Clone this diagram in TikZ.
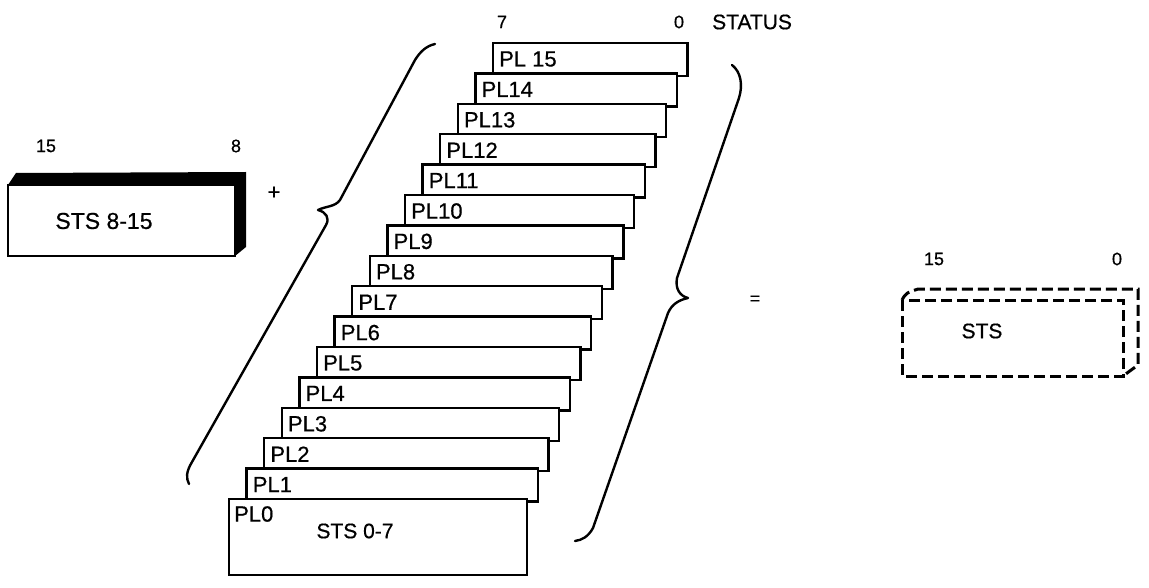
\documentclass[tikz,border=0pt]{standalone}
\usepackage{fontspec}
\setmainfont{Liberation Sans}[FakeBold=0.6,BoldFont={Liberation Sans},BoldFeatures={FakeBold=0.6}]
\begin{document}
\begin{tikzpicture}[x=1pt,y=-1pt,
  card/.style={draw=black, fill=white, line width=2.4pt},
  lbl/.style={inner sep=0pt, font=\fontsize{22}{26}\selectfont},
  num/.style={inner sep=0pt, font=\fontsize{18}{21}\selectfont},
  brace/.style={draw=black, line width=2.4pt, line cap=round, line join=round},
  dbox/.style={draw=black, line width=3pt, dash pattern=on 11pt off 5pt}]
\useasboundingbox (0,0) rectangle (1149,588);

% ---- left box (bits 15..8)
\fill[black] (8,185) -- (16,173) -- (246,172) -- (246,247) -- (235,256) -- cycle;
\draw[line width=2pt, fill=white] (8,185) rectangle (235,256);
\node[lbl, font=\fontsize{23}{27}\selectfont] (sts815) at (104,221) {STS 8-15};
\node[num] (n15a) at (46,146) {15};
\node[num] (n8) at (236,146) {8};
\node[lbl] (plus) at (274,193) {+};

% ---- stacked cards PL15 .. PL1
\foreach \i/\lab in {15/PL 15,14/PL14,13/PL13,12/PL12,11/PL11,10/PL10,9/PL9,8/PL8,7/PL7,6/PL6,5/PL5,4/PL4,3/PL3,2/PL2,1/PL1}{
  \pgfmathsetmacro\L{229+17.6*\i}
  \pgfmathsetmacro\T{499-30.4*\i}
  \pgfmathsetmacro\R{527+10.7*\i}
  \pgfmathsetmacro\B{\T+33}
  \draw[card] (\L,\T) rectangle (\R,\B);
  \node[lbl, anchor=west] (pl\i) at (\L+6,\T+16) {\lab};
}
% ---- front card PL0
\draw[card] (229,499) rectangle (527,575);
\node[lbl, anchor=west] (pl0) at (234,514) {PL0};
\node[lbl, font=\fontsize{21}{25}\selectfont] (sts07) at (355,531) {STS 0-7};

% ---- header
\node[num] (n7) at (502,22) {7};
\node[num] (n0a) at (679,22) {0};
\node[lbl, anchor=west, font=\fontsize{21}{25}\selectfont] (status) at (712,22) {STATUS};

% ---- left brace
\draw[brace] (435,44) .. controls (426,46) and (420,52) .. (415,60)
  -- (340,200) .. controls (335,207) and (326,206) .. (318,210)
  .. controls (326,212) and (330,218) .. (326,225)
  -- (192,462) .. controls (186,472) and (186,478) .. (189,484);

% ---- right brace
\draw[brace] (732,65) .. controls (741,72) and (743,85) .. (739,98)
  -- (677,278) .. controls (675,289) and (680,296) .. (688,298)
  .. controls (679,300) and (672,304) .. (668,313)
  -- (593,528) .. controls (588,537) and (582,540) .. (575,541);

% ---- equals
\node[num] (eq) at (755,300) {=};

% ---- result dashed box
\draw[dbox] (902,300) rectangle (1123,376);
\draw[dbox] (902,300) .. controls (906,293) .. (918,289) -- (1138,289) -- (1138,365) -- (1123,376);
\node[lbl, font=\fontsize{21}{25}\selectfont] (sts) at (982,331) {STS};
\node[num] (n15b) at (934,259) {15};
\node[num] (n0b) at (1117,259) {0};
\end{tikzpicture}
\end{document}
